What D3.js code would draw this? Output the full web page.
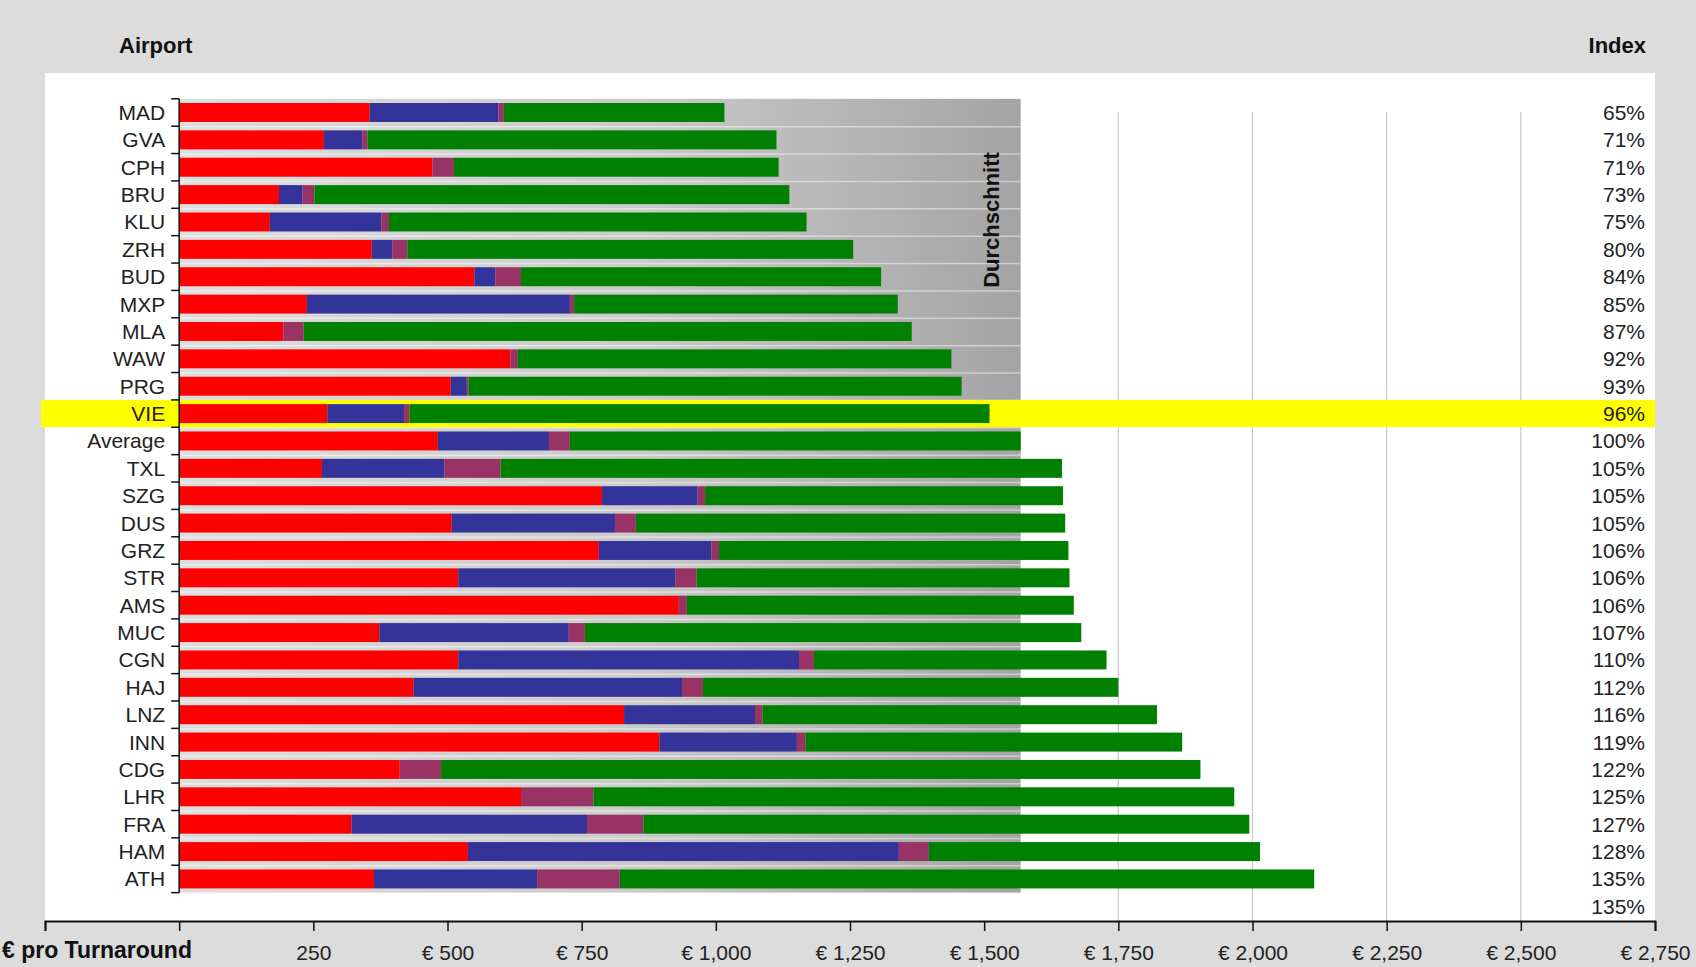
<!DOCTYPE html>
<html>
<head>
<meta charset="utf-8">
<script src="https://cdn.jsdelivr.net/npm/d3@7"></script>
<style>
    html, body { margin: 0; padding: 0; background: #dcdcdc; }
    svg { display: block; font-family: "Liberation Sans", Arial, sans-serif; }
</style>
</head>
<body>
<div id="chart"></div>
<script>
// Kosten pro Turnaround nach Flughafen (gestapelt) + Index

const airports = ['MAD', 'GVA', 'CPH', 'BRU', 'KLU', 'ZRH', 'BUD', 'MXP', 'MLA', 'WAW', 'PRG', 'VIE', 'Average',
    'TXL', 'SZG', 'DUS', 'GRZ', 'STR', 'AMS', 'MUC', 'CGN', 'HAJ', 'LNZ', 'INN', 'CDG', 'LHR', 'FRA', 'HAM', 'ATH'];
const red = [355, 270, 472, 186, 169, 359, 550, 238, 194, 617, 506, 276, 482,
    266, 788, 508, 782, 520, 931, 373, 520, 437, 829, 895, 411, 637, 321, 538, 363];
const blue = [240, 71, 0, 44, 208, 38, 39, 490, 0, 0, 30, 143, 207,
    228, 178, 304, 210, 405, 0, 353, 635, 500, 244, 256, 0, 0, 439, 803, 304];
const purple = [10, 10, 40, 22, 14, 28, 48, 8, 38, 14, 3, 10, 39,
    105, 14, 39, 14, 39, 15, 30, 28, 39, 14, 16, 77, 135, 105, 56, 154];
const green = [411, 762, 605, 885, 778, 831, 671, 603, 1133, 808, 919, 1081, 840,
    1046, 667, 800, 651, 695, 721, 925, 545, 774, 735, 702, 1415, 1194, 1129, 617, 1294];
const indexLabels = ['65%', '71%', '71%', '73%', '75%', '80%', '84%', '85%', '87%', '92%', '93%', '96%', '100%',
    '105%', '105%', '105%', '106%', '106%', '106%', '107%', '110%', '112%', '116%', '119%', '122%', '125%', '127%', '128%', '135%', '135%'];
const tickValues = [-250, 0, 250, 500, 750, 1000, 1250, 1500, 1750, 2000, 2250, 2500, 2750];
const tickLabels = ['', '', '250', '€ 500', '€ 750', '€ 1,000', '€ 1,250', '€ 1,500', '€ 1,750', '€ 2,000', '€ 2,250', '€ 2,500', '€ 2,750'];
const gridValues = [1750, 2000, 2250, 2500];
const highlight = 'VIE';
const averageName = 'Average';

const seriesKeys = ['red', 'blue', 'purple', 'green'];
const seriesColors = { red: '#ff0000', blue: '#333399', purple: '#993366', green: '#008000' };

const width = 1696;
const height = 967;
const panel = { left: 45, right: 1655, top: 73, bottom: 921 };

const rows = airports.map((name, i) => ({
    name, red: red[i], blue: blue[i], purple: purple[i], green: green[i]
}));
// extra leerer Slot unten fuer die zweite 135%-Zeile
const rowKeys = airports.concat(['__extra']);

const x = d3.scaleLinear().domain([-250, 2750]).range([panel.left, panel.right]);
const y = d3.scaleBand().domain(rowKeys).range([98.8, 920]).paddingInner(0).paddingOuter(0);
const barPad = 4.2;

const svg = d3.select('#chart').append('svg')
    .attr('width', width)
    .attr('height', height);

svg.append('rect').attr('width', width).attr('height', height).attr('fill', '#dcdcdc');
svg.append('rect')
    .attr('x', panel.left).attr('y', panel.top)
    .attr('width', panel.right - panel.left).attr('height', panel.bottom - panel.top)
    .attr('fill', '#ffffff');

const defs = svg.append('defs');
const grad = defs.append('linearGradient').attr('id', 'avgGrad').attr('x1', '0%').attr('x2', '100%');
grad.append('stop').attr('offset', '0%').attr('stop-color', '#dedede');
grad.append('stop').attr('offset', '55%').attr('stop-color', '#cacaca');
grad.append('stop').attr('offset', '100%').attr('stop-color', '#a4a4a4');

// vertikale Gitterlinien
svg.append('g').selectAll('line').data(gridValues).enter().append('line')
    .attr('x1', (d) => x(d)).attr('x2', (d) => x(d))
    .attr('y1', 112).attr('y2', panel.bottom)
    .attr('stroke', '#c8c8c8').attr('stroke-width', 1.2);

// Durchschnitt-Bereich
const avgRow = rows.find((r) => r.name === averageName);
const avgTotal = avgRow.red + avgRow.blue + avgRow.purple + avgRow.green;
const lastRowBottom = y(airports[airports.length - 1]) + y.bandwidth();
svg.append('rect')
    .attr('x', x(0)).attr('y', y(airports[0]))
    .attr('width', x(avgTotal) - x(0))
    .attr('height', lastRowBottom - y(airports[0]))
    .attr('fill', 'url(#avgGrad)');
svg.append('g').selectAll('line').data(airports.slice(1)).enter().append('line')
    .attr('x1', x(0)).attr('x2', x(avgTotal))
    .attr('y1', (d) => y(d) + 0.5).attr('y2', (d) => y(d) + 0.5)
    .attr('stroke', '#ffffff').attr('stroke-opacity', 0.45).attr('stroke-width', 1.5);

// Hervorhebung VIE
svg.append('rect')
    .attr('x', 41).attr('y', y(highlight))
    .attr('width', panel.right - 41).attr('height', y.bandwidth())
    .attr('fill', '#ffff00');

svg.append('text')
    .attr('transform', `translate(${x(avgTotal) - 29}, 220) rotate(-90)`)
    .attr('text-anchor', 'middle')
    .attr('dominant-baseline', 'central')
    .attr('font-size', '22px')
    .attr('font-weight', 'bold')
    .attr('fill', '#111')
    .text('Durchschnitt');

// gestapelte Balken
const stack = d3.stack().keys(seriesKeys);
const layers = stack(rows);
svg.append('g').selectAll('g').data(layers).enter().append('g')
    .attr('fill', (d) => seriesColors[d.key])
    .selectAll('rect').data((d) => d).enter().append('rect')
    .attr('x', (d) => x(d[0]))
    .attr('y', (d) => y(d.data.name) + barPad)
    .attr('width', (d) => Math.max(0, x(d[1]) - x(d[0])))
    .attr('height', y.bandwidth() - barPad * 2);

// y-Achse mit Klammer-Ticks
const yAxisG = svg.append('g').attr('stroke', '#111').attr('stroke-width', 1.5);
yAxisG.append('line')
    .attr('x1', x(0)).attr('x2', x(0))
    .attr('y1', y(airports[0])).attr('y2', lastRowBottom);
yAxisG.selectAll('line.tick').data(airports.concat(['__end'])).enter().append('line')
    .attr('class', 'tick')
    .attr('x1', x(0) - 8).attr('x2', x(0))
    .attr('y1', (d, i) => y(airports[0]) + i * y.step())
    .attr('y2', (d, i) => y(airports[0]) + i * y.step());

svg.append('g').selectAll('text').data(airports).enter().append('text')
    .attr('x', x(0) - 14)
    .attr('y', (d) => y(d) + y.bandwidth() / 2)
    .attr('text-anchor', 'end')
    .attr('dominant-baseline', 'central')
    .attr('font-size', '21px')
    .attr('fill', '#222')
    .text((d) => d);

// Index-Spalte
svg.append('g').selectAll('text').data(indexLabels).enter().append('text')
    .attr('x', 1645)
    .attr('y', (d, i) => y(rowKeys[i]) + y.bandwidth() / 2)
    .attr('text-anchor', 'end')
    .attr('dominant-baseline', 'central')
    .attr('font-size', '21px')
    .attr('fill', '#222')
    .text((d) => d);

// x-Achse
const xAxis = d3.axisBottom(x)
    .tickValues(tickValues)
    .tickFormat((d, i) => tickLabels[i])
    .tickSize(10)
    .tickPadding(14);
const xAxisG = svg.append('g')
    .attr('transform', `translate(0, ${panel.bottom})`)
    .call(xAxis);
xAxisG.select('.domain').attr('stroke', '#111').attr('stroke-width', 2);
xAxisG.selectAll('.tick line').attr('stroke', '#111').attr('stroke-width', 1.5);
xAxisG.selectAll('.tick text')
    .attr('font-size', '21px')
    .attr('font-family', '"Liberation Sans", Arial, sans-serif')
    .attr('fill', '#222');

// Titel
svg.append('text')
    .attr('x', 119).attr('y', 45)
    .attr('dominant-baseline', 'central')
    .attr('font-size', '22px').attr('font-weight', 'bold').attr('fill', '#111')
    .text('Airport');
svg.append('text')
    .attr('x', 1646).attr('y', 45)
    .attr('text-anchor', 'end')
    .attr('dominant-baseline', 'central')
    .attr('font-size', '22px').attr('font-weight', 'bold').attr('fill', '#111')
    .text('Index');
svg.append('text')
    .attr('x', 2).attr('y', 950)
    .attr('dominant-baseline', 'central')
    .attr('font-size', '23px').attr('font-weight', 'bold').attr('fill', '#111')
    .text('€ pro Turnaround');
</script>
</body>
</html>
